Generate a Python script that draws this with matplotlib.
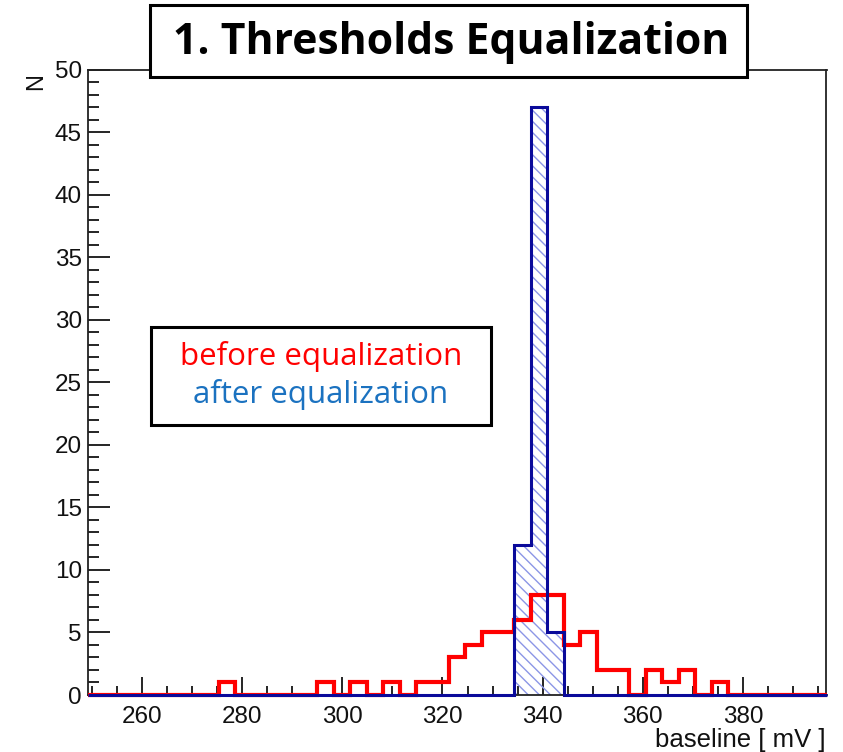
import numpy as np
import matplotlib
matplotlib.use("Agg")
import matplotlib.pyplot as plt
from matplotlib.patches import Rectangle
from matplotlib.ticker import MultipleLocator

# Histogram binning (mV)
x_min = 249.1
bin_width = 3.28
n_bins = 45

# Counts per bin, before and after the threshold equalization
before_counts = [0, 0, 0, 0, 0, 0, 0, 0, 1, 0,
                 0, 0, 0, 0, 1, 0, 1, 0, 1, 0,
                 1, 1, 3, 4, 5, 5, 6, 8, 8, 4,
                 5, 2, 2, 0, 2, 1, 2, 0, 1, 0,
                 0, 0, 0, 0, 0]
after_counts = [0, 0, 0, 0, 0, 0, 0, 0, 0, 0,
                0, 0, 0, 0, 0, 0, 0, 0, 0, 0,
                0, 0, 0, 0, 0, 0, 12, 47, 5, 0,
                0, 0, 0, 0, 0, 0, 0, 0, 0, 0,
                0, 0, 0, 0, 0]

x_major_ticks = [260, 280, 300, 320, 340, 360, 380]
title_text = "1. Thresholds Equalization"
legend_labels = ["before equalization", "after equalization"]
x_label = "baseline [ mV ]"
y_label = "N"

RED = "#ff0000"
DARK_BLUE = "#0a0a9a"
HATCH_BLUE = "#8c96e6"
LEGEND_BLUE = "#1b72c0"

W, H = 843, 752
DPI = 100
plt.rcParams["font.family"] = ["Liberation Sans", "DejaVu Sans"]
plt.rcParams["hatch.linewidth"] = 1.0

fig = plt.figure(figsize=(W / DPI, H / DPI), dpi=DPI)
ax_left, ax_right, ax_top, ax_bottom = 87.5, 826.5, 69.5, 695.0
ax = fig.add_axes([ax_left / W, 1 - ax_bottom / H,
                   (ax_right - ax_left) / W, (ax_bottom - ax_top) / H])

edges = x_min + bin_width * np.arange(n_bins + 1)
before = np.array(before_counts, dtype=float)
after = np.array(after_counts, dtype=float)

# before: thick red outline
ax.stairs(before, edges, color=RED, linewidth=3.0, baseline=0,
          clip_on=False, zorder=3)
# after: hatched fill with a dark blue outline
ax.stairs(after, edges, fill=True, facecolor="none", edgecolor=HATCH_BLUE,
          hatch="\\\\\\", linewidth=0, baseline=0, zorder=2)
ax.stairs(after, edges, color=DARK_BLUE, linewidth=2.2, baseline=0,
          clip_on=False, zorder=4)

ax.set_xlim(edges[0], edges[-1])
ax.set_ylim(0, 50)

ax.set_xticks(x_major_ticks)
ax.xaxis.set_minor_locator(MultipleLocator(5))
ax.yaxis.set_major_locator(MultipleLocator(5))
ax.yaxis.set_minor_locator(MultipleLocator(1))

ax.tick_params(axis="x", which="major", direction="in", length=13, width=1.2,
               labelsize=17.5, pad=8, top=False)
ax.tick_params(axis="x", which="minor", direction="in", length=6.5, width=1.2,
               top=False)
ax.tick_params(axis="y", which="major", direction="in", length=16, width=1.2,
               labelsize=17.5, pad=4, right=False)
ax.tick_params(axis="y", which="minor", direction="in", length=8, width=1.2,
               right=False)
for lab in ax.get_xticklabels() + ax.get_yticklabels():
    lab.set_color("#111111")

for sp in ax.spines.values():
    sp.set_linewidth(1.3)
    sp.set_color("#222222")

# axis titles
fig.text(36 / W, 1 - 73 / H, y_label, rotation=90, ha="center", va="top",
         fontsize=17, color="#111111")
fig.text(826 / W, 1 - 740 / H, x_label, ha="right", va="center",
         fontsize=18.5, color="#111111")

# title box
tb_l, tb_r, tb_t, tb_b = 150, 747, 5, 77
fig.patches.append(Rectangle((tb_l / W, 1 - tb_b / H), (tb_r - tb_l) / W,
                             (tb_b - tb_t) / H, transform=fig.transFigure,
                             facecolor="white", edgecolor="black",
                             linewidth=2.2, zorder=10))
fig.text((tb_l + tb_r) / 2 / W + 3 / W, 1 - 42 / H, title_text, ha="center",
         va="center", fontsize=30.8, fontweight="bold", family="Open Sans",
         color="black", zorder=11)

# legend box
lb_l, lb_r, lb_t, lb_b = 151, 491, 327, 425
ax.add_artist(Rectangle((lb_l / W, 1 - lb_b / H), (lb_r - lb_l) / W,
                        (lb_b - lb_t) / H, transform=fig.transFigure,
                        facecolor="white", edgecolor="black", linewidth=2.2,
                        zorder=10))
fig.text(321 / W, 1 - 357 / H, legend_labels[0], ha="center", va="center",
         fontsize=22.5, family="Open Sans", color=RED, zorder=11)
fig.text(321 / W, 1 - 395 / H, legend_labels[1], ha="center", va="center",
         fontsize=22.5, family="Open Sans", color=LEGEND_BLUE, zorder=11)

fig.savefig("out.png", dpi=DPI)
